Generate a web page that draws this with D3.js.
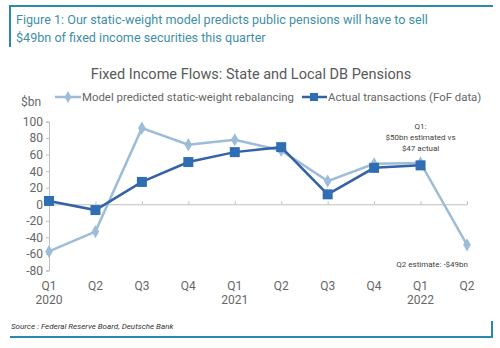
<!DOCTYPE html>
<html>
<head>
	<meta charset="utf-8">
	<title>Fixed Income Flows</title>
	<script src="https://cdn.jsdelivr.net/npm/d3@7"></script>
	<style>
		body { margin: 0; background: #fff; }
		text { font-family: Roboto, "DejaVu Sans", sans-serif; }
	</style>
</head>
<body>
<svg width="500" height="348"></svg>

<script type="text/javascript">
var quarters = ["Q1", "Q2", "Q3", "Q4", "Q1", "Q2", "Q3", "Q4", "Q1", "Q2"];
var years = ["2020", "", "", "", "2021", "", "", "", "2022", ""];
var modelValues = [-57, -33, 92, 72, 78, 65, 28, 49, 50, -49];
var actualValues = [4, -7, 27, 51, 63, 69, 12, 44, 47, null];
var yTicks = [-80, -60, -40, -20, 0, 20, 40, 60, 80, 100];

var modelColor = "#9dbcd8", actualColor = "#3462a6", actualMarker = "#2f6eb3";
var labelColor = "#666";
var svg = d3.select("svg");

// frame
var frame = "#2a8aaa";
svg.append("path").attr("d", "M10,47V6H493").attr("fill", "none").attr("stroke", frame).attr("stroke-width", 2);
svg.append("path").attr("d", "M10,337H492V321").attr("fill", "none").attr("stroke", frame).attr("stroke-width", 2);

svg.append("text").attr("x", 16).attr("y", 24).attr("fill", "#3f8fa6").style("font-size", "12.6px")
	.text("Figure 1: Our static-weight model predicts public pensions will have to sell");
svg.append("text").attr("x", 16).attr("y", 42).attr("fill", "#3f8fa6").style("font-size", "12.6px")
	.text("$49bn of fixed income securities this quarter");

svg.append("text").attr("x", 251).attr("y", 79).attr("text-anchor", "middle").attr("fill", "#595959")
	.style("font-size", "14.5px").text("Fixed Income Flows: State and Local DB Pensions");

var x = d3.scalePoint().domain(d3.range(quarters.length)).range([49, 467]);
var y = d3.scaleLinear().domain([-80, 100]).range([270.5, 121.5]);

// y axis
var yAxis = svg.append("g").attr("transform", "translate(49,0)")
	.call(d3.axisLeft(y).tickValues(yTicks).tickSize(3).tickFormat(function(d) { return String(d); }));
yAxis.select(".domain").attr("stroke", "#bfbfbf");
yAxis.selectAll(".tick line").attr("stroke", "#bfbfbf");
yAxis.selectAll("text").attr("fill", labelColor).style("font-size", "12px").attr("x", -6);
svg.append("text").attr("x", 21).attr("y", 106).attr("fill", labelColor).style("font-size", "12px").text("$bn");

// x axis at zero
var xAxis = svg.append("g").attr("transform", "translate(0," + y(0) + ")")
	.call(d3.axisBottom(x).tickSize(3).tickSizeOuter(0).tickFormat(""));
xAxis.select(".domain").attr("stroke", "#bfbfbf");
xAxis.selectAll(".tick line").attr("stroke", "#bfbfbf").attr("y2", -3);

var labels = svg.append("g").selectAll("g").data(quarters).enter().append("g");
labels.append("text").attr("x", function(d, i) { return x(i); }).attr("y", 290)
	.attr("text-anchor", "middle").attr("fill", labelColor).style("font-size", "12px")
	.text(function(d) { return d; });
labels.append("text").attr("x", function(d, i) { return x(i); }).attr("y", 304)
	.attr("text-anchor", "middle").attr("fill", labelColor).style("font-size", "12px")
	.text(function(d, i) { return years[i]; });

var line = d3.line().defined(function(d) { return d != null; })
	.x(function(d, i) { return x(i); }).y(function(d) { return y(d); });

svg.append("path").datum(modelValues).attr("d", line).attr("fill", "none")
	.attr("stroke", modelColor).attr("stroke-width", 2.5);
svg.append("g").selectAll("path").data(modelValues).enter().append("path")
	.attr("d", d3.symbol().type(d3.symbolDiamond).size(50))
	.attr("transform", function(d, i) { return "translate(" + x(i) + "," + y(d) + ")"; })
	.attr("fill", modelColor);

svg.append("path").datum(actualValues).attr("d", line).attr("fill", "none")
	.attr("stroke", actualColor).attr("stroke-width", 2.5);
svg.append("g").selectAll("rect").data(actualValues.filter(function(d) { return d != null; })).enter().append("rect")
	.attr("x", function(d, i) { return x(i) - 5; }).attr("y", function(d) { return y(d) - 5; })
	.attr("width", 10).attr("height", 10).attr("fill", actualMarker);

// legend
svg.append("line").attr("x1", 55).attr("x2", 81).attr("y1", 97).attr("y2", 97).attr("stroke", modelColor).attr("stroke-width", 2.5);
svg.append("path").attr("d", d3.symbol().type(d3.symbolDiamond).size(40)).attr("transform", "translate(68,97)").attr("fill", modelColor);
svg.append("text").attr("x", 82).attr("y", 101).attr("fill", labelColor).style("font-size", "11.4px").text("Model predicted static-weight rebalancing");
svg.append("line").attr("x1", 302).attr("x2", 327).attr("y1", 97).attr("y2", 97).attr("stroke", actualColor).attr("stroke-width", 2.5);
svg.append("rect").attr("x", 310).attr("y", 93).attr("width", 8).attr("height", 8).attr("fill", actualMarker);
svg.append("text").attr("x", 328).attr("y", 101).attr("fill", labelColor).style("font-size", "11.4px").text("Actual transactions (FoF data)");

// annotations
var ann = svg.append("g").attr("fill", "#404040").style("font-size", "8px").attr("text-anchor", "middle");
ann.append("text").attr("x", x(8)).attr("y", 129).text("Q1:");
ann.append("text").attr("x", x(8)).attr("y", 140).text("$50bn estimated vs");
ann.append("text").attr("x", x(8)).attr("y", 151).text("$47 actual");
ann.append("text").attr("x", 468).attr("y", 267).attr("text-anchor", "end").text("Q2 estimate:  -$49bn");

svg.append("text").attr("x", 11).attr("y", 329).attr("fill", "#333").style("font-size", "8px")
	.style("font-style", "italic").text("Source : Federal Reserve Board, Deutsche Bank");
</script>
</body>
</html>
